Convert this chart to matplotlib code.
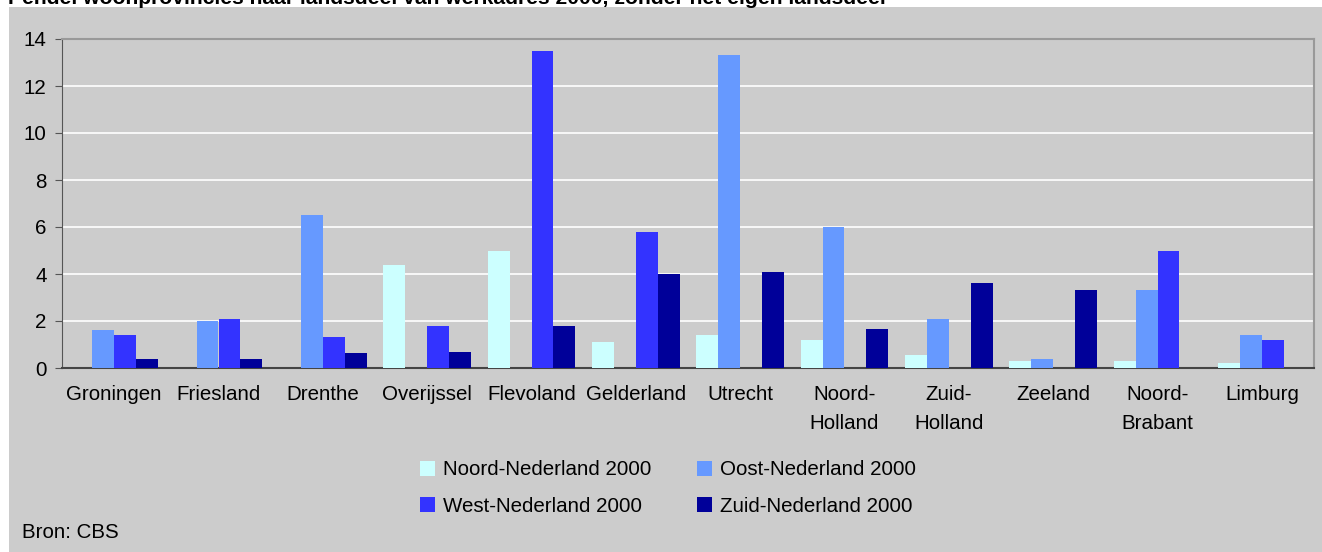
import numpy as np
import matplotlib
matplotlib.use('Agg')
import matplotlib.pyplot as plt
from matplotlib.patches import Rectangle

plt.rcParams['font.family'] = ['Liberation Sans', 'DejaVu Sans']

# Data
provinces = ['Groningen', 'Friesland', 'Drenthe', 'Overijssel', 'Flevoland', 'Gelderland',
             'Utrecht', 'Noord-\nHolland', 'Zuid-\nHolland', 'Zeeland', 'Noord-\nBrabant', 'Limburg']
noord = [0, 0, 0, 4.4, 5.0, 1.1, 1.4, 1.2, 0.55, 0.3, 0.3, 0.2]
oost = [1.6, 2.0, 6.5, 0, 0, 0, 13.3, 6.0, 2.1, 0.4, 3.3, 1.4]
west = [1.4, 2.1, 1.3, 1.8, 13.5, 5.8, 0, 0, 0, 0, 5.0, 1.2]
zuid = [0.4, 0.4, 0.65, 0.7, 1.8, 4.0, 4.1, 1.65, 3.6, 3.3, 0, 0]
series_names = ['Noord-Nederland 2000', 'Oost-Nederland 2000', 'West-Nederland 2000', 'Zuid-Nederland 2000']
colors = ['#CCFFFF', '#6699FF', '#3333FF', '#000099']

fig = plt.figure(figsize=(13.22, 5.52), dpi=100)
fig.patch.set_facecolor('white')

# gray panel behind everything
fig.patches.append(Rectangle((9 / 1322, 0), 1 - 9 / 1322, 1 - 7 / 552,
                             transform=fig.transFigure, facecolor='#CCCCCC',
                             edgecolor='none', zorder=-10))

# clipped title at the very top (cut off in the original too)
fig.text(8 / 1322, 1 - 4 / 552, 'Pendel woonprovincies naar landsdeel van werkadres 2000, zonder het eigen landsdeel',
         fontsize=15.2, fontweight='bold', ha='left', va='baseline')

ax = fig.add_axes([62 / 1322, 1 - 368 / 552, (1314 - 62) / 1322, (368 - 39) / 552])
ax.set_facecolor('#CCCCCC')

x = np.arange(len(provinces))
w = 0.21
bars = []
for i, (vals, name, c) in enumerate(zip([noord, oost, west, zuid], series_names, colors)):
    bars.append(ax.bar(x + (i - 1.5) * w, vals, width=w, color=c, label=name, zorder=3))

ax.set_xlim(-0.5, len(provinces) - 0.5)
ax.set_ylim(0, 14)
ax.set_yticks(range(0, 15, 2))
ax.yaxis.grid(True, color='white', linewidth=1.2, zorder=1)
ax.set_axisbelow(True)

ax.set_xticks(x)
ax.set_xticklabels(provinces, fontsize=14.8, linespacing=1.7)
ax.tick_params(axis='x', length=0, pad=12)
ax.tick_params(axis='y', labelsize=14.8, length=5, color='#555555', pad=6)

ax.spines['left'].set_color('#555555')
ax.spines['bottom'].set_color('#444444')
ax.spines['bottom'].set_linewidth(1.5)
ax.spines['top'].set_color('#999999')
ax.spines['top'].set_linewidth(1.5)
ax.spines['right'].set_color('#999999')
ax.spines['right'].set_linewidth(1.5)

# legend filled row by row: Noord, Oost / West, Zuid
order = [0, 2, 1, 3]
fig.legend([bars[i] for i in order], [series_names[i] for i in order],
           loc='center', bbox_to_anchor=(668 / 1322, 1 - 488 / 552), ncol=2,
           frameon=False, fontsize=14.8, handlelength=0.75, handleheight=0.75,
           handletextpad=0.4, columnspacing=2.2, labelspacing=0.85)

fig.text(22 / 1322, 1 - 533 / 552, 'Bron: CBS', fontsize=14.8, ha='left', va='center')

fig.savefig('out.png', dpi=100, facecolor=fig.get_facecolor())
